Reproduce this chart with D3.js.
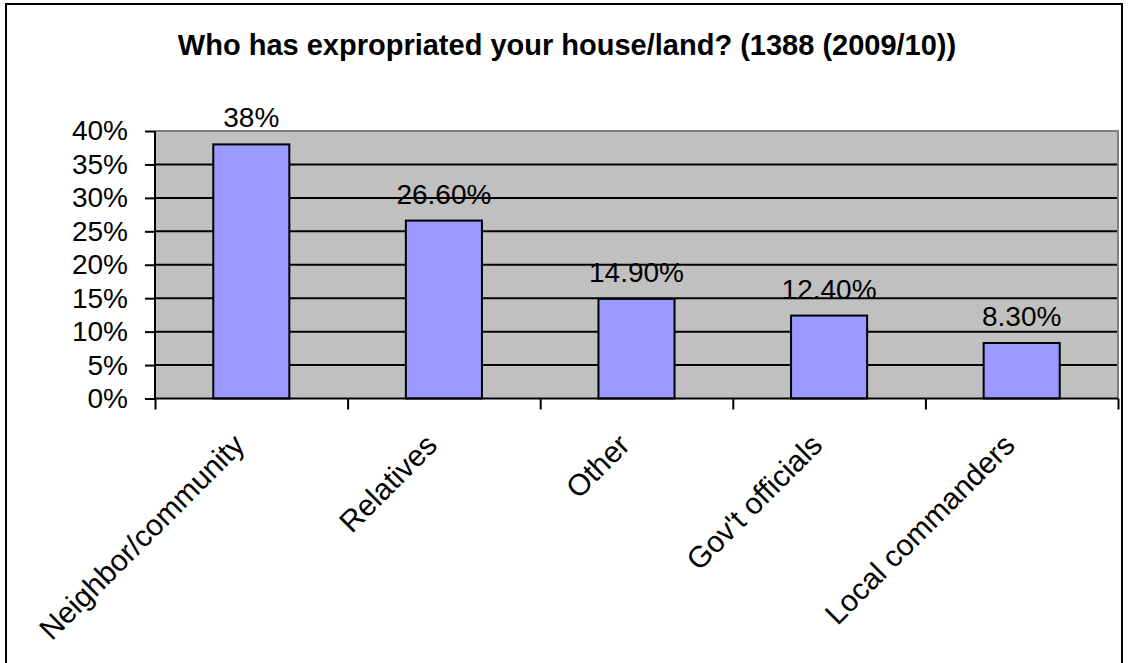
<!DOCTYPE html>
<html>
<head>
<meta charset="utf-8">
<script src="https://cdn.jsdelivr.net/npm/d3@7"></script>
<style>
  html, body { margin: 0; padding: 0; background: #fff; }
  svg { display: block; }
  text { font-family: "Liberation Sans", Arial, sans-serif; }
</style>
</head>
<body>
<svg id="chart" width="1128" height="663"></svg>
<script>
const titleText = "Who has expropriated your house/land? (1388 (2009/10))";
const categories = ["Neighbor/community", "Relatives", "Other", "Gov't officials", "Local commanders"];
const values = [38, 26.6, 14.9, 12.4, 8.3];
const valueLabels = ["38%", "26.60%", "14.90%", "12.40%", "8.30%"];
const yTicks = [0, 5, 10, 15, 20, 25, 30, 35, 40];

const svg = d3.select("#chart");
const plot = { left: 155, right: 1118, top: 131, bottom: 398.5 };

// outer frame
svg.append("rect").attr("x", 6).attr("y", 4).attr("width", 1116).attr("height", 680)
  .attr("fill", "#fff").attr("stroke", "#000").attr("stroke-width", 2);

// title
svg.append("text").attr("x", 567).attr("y", 55).attr("text-anchor", "middle")
  .attr("font-size", 29).attr("font-weight", "bold").attr("fill", "#000").text(titleText);

const x = d3.scaleBand().domain(categories).range([plot.left, plot.right])
  .paddingInner(0.605).paddingOuter(0.3025);
const xb = d3.scaleLinear().domain([0, categories.length]).range([plot.left, plot.right]);
const y = d3.scaleLinear().domain([0, 40]).range([plot.bottom, plot.top]);

// plot background
svg.append("rect").attr("x", plot.left).attr("y", plot.top)
  .attr("width", plot.right - plot.left).attr("height", plot.bottom - plot.top)
  .attr("fill", "#C0C0C0");

// data labels (under gridlines)
svg.append("g").selectAll("text").data(categories).join("text")
  .attr("x", d => x(d) + x.bandwidth() / 2)
  .attr("y", (d, i) => y(values[i]) - 17)
  .attr("text-anchor", "middle").attr("font-size", 28).attr("fill", "#000")
  .text((d, i) => valueLabels[i]);

// gridlines
svg.append("g").selectAll("line").data(yTicks.filter(t => t > 0 && t < 40)).join("line")
  .attr("x1", plot.left).attr("x2", plot.right)
  .attr("y1", d => y(d)).attr("y2", d => y(d))
  .attr("stroke", "#000").attr("stroke-width", 2);

// bars
svg.append("g").selectAll("rect").data(categories).join("rect")
  .attr("x", d => x(d)).attr("width", x.bandwidth())
  .attr("y", (d, i) => y(values[i])).attr("height", (d, i) => y(0) - y(values[i]))
  .attr("fill", "#9999FF").attr("stroke", "#000").attr("stroke-width", 2);

// plot border top/right gray
svg.append("path")
  .attr("d", `M${plot.left},${plot.top}H${plot.right}V${plot.bottom}`)
  .attr("fill", "none").attr("stroke", "#808080").attr("stroke-width", 2);

// y axis
const yAxis = svg.append("g").attr("transform", `translate(${plot.left},0)`)
  .call(d3.axisLeft(y).tickValues(yTicks).tickFormat(d => d + "%").tickSize(10).tickPadding(17));
yAxis.selectAll("path, line").attr("stroke", "#000").attr("stroke-width", 2);
yAxis.select(".domain").attr("d", `M0,${plot.top}V${plot.bottom}`);
yAxis.selectAll("text").attr("font-size", 28).attr("fill", "#000")
  .attr("font-family", "Liberation Sans, Arial, sans-serif");

// x axis with boundary ticks
const xAxis = svg.append("g").attr("transform", `translate(0,${plot.bottom})`)
  .call(d3.axisBottom(xb).tickValues(d3.range(categories.length + 1)).tickFormat("").tickSize(11));
xAxis.selectAll("path, line").attr("stroke", "#000").attr("stroke-width", 2);
xAxis.select(".domain").attr("d", `M${plot.left},0H${plot.right}`);

// category labels rotated
svg.append("g").selectAll("text").data(categories).join("text")
  .attr("transform", d => `translate(${x(d) + x.bandwidth() / 2 - 5},447) rotate(-45)`)
  .attr("text-anchor", "end").attr("font-size", 30).attr("fill", "#000")
  .text(d => d);
</script>
</body>
</html>
